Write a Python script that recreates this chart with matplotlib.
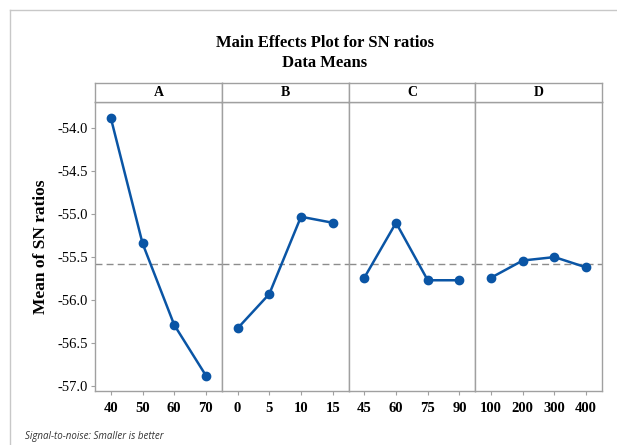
import matplotlib
matplotlib.use("Agg")
import matplotlib.pyplot as plt
from matplotlib.lines import Line2D

factors = ["A", "B", "C", "D"]
levels = {
    "A": ["40", "50", "60", "70"],
    "B": ["0", "5", "10", "15"],
    "C": ["45", "60", "75", "90"],
    "D": ["100", "200", "300", "400"],
}
means = {
    "A": [-53.88, -55.34, -56.29, -56.88],
    "B": [-56.33, -55.93, -55.03, -55.10],
    "C": [-55.74, -55.10, -55.77, -55.77],
    "D": [-55.74, -55.54, -55.50, -55.62],
}
grand_mean = -55.58
yticks = [-54.0, -54.5, -55.0, -55.5, -56.0, -56.5, -57.0]

W, H = 617, 445
fig = plt.figure(figsize=(W / 100, H / 100), dpi=100)

serif = "Liberation Serif"
line_col = "#0a55a5"
spine_col = "#a0a0a0"

left, right = 95 / W, 602 / W
bottom = 1 - 391 / H
top = 1 - 101.7 / H
strip_top = 1 - 83.3 / H
pw = (right - left) / 4

axes = []
for i, f in enumerate(factors):
    ax = fig.add_axes([left + i * pw, bottom, pw, top - bottom])
    x = list(range(len(levels[f])))
    ax.axhline(grand_mean, color="#8c8c8c", lw=1.0, ls=(0, (5, 3)), zorder=1)
    ax.plot(x, means[f], color=line_col, lw=1.8, marker="o", ms=6,
            markerfacecolor=line_col, markeredgecolor=line_col, zorder=3)
    ax.set_xlim(-0.5, 3.5)
    ax.set_ylim(-57.06, -53.69)
    ax.set_xticks(x)
    ax.set_xticklabels(levels[f], fontfamily=serif, fontweight="bold", fontsize=10.5)
    for s in ax.spines.values():
        s.set_color(spine_col)
        s.set_linewidth(1.0)
    ax.tick_params(axis="x", length=3, color=spine_col, pad=5)
    if i == 0:
        ax.set_yticks(yticks)
        ax.set_yticklabels([f"{v:.1f}" for v in yticks], fontfamily=serif, fontsize=10.5)
        ax.tick_params(axis="y", length=3, color=spine_col, pad=2)
        ax.set_ylabel("Mean of SN ratios", fontfamily=serif, fontweight="bold",
                      fontsize=12.5, labelpad=6)
    else:
        ax.set_yticks([])
    # strip
    sax = fig.add_axes([left + i * pw, top, pw, strip_top - top])
    sax.set_xticks([])
    sax.set_yticks([])
    for s in sax.spines.values():
        s.set_color(spine_col)
        s.set_linewidth(1.0)
    sax.text(0.5, 0.5, f, ha="center", va="center", fontfamily=serif,
             fontweight="bold", fontsize=10, transform=sax.transAxes)
    axes.append(ax)

fig.text(325 / W, 1 - 43 / H, "Main Effects Plot for SN ratios", ha="center", va="center",
         fontfamily=serif, fontweight="bold", fontsize=12)
fig.text(325 / W, 1 - 63 / H, "Data Means", ha="center", va="center",
         fontfamily=serif, fontweight="bold", fontsize=12)
fig.text(25 / W, 1 - 437 / H, "Signal-to-noise: Smaller is better", ha="left", va="center",
         fontfamily="Open Sans", fontstyle="italic", fontsize=7, color="#333333")

# outer frame lines
fig.add_artist(Line2D([10 / W, 10 / W], [0, 1 - 10 / H], transform=fig.transFigure,
                      color="#c8c8c8", lw=1.0))
fig.add_artist(Line2D([10 / W, 1], [1 - 10 / H, 1 - 10 / H], transform=fig.transFigure,
                      color="#c8c8c8", lw=1.0))

fig.savefig("out.png", dpi=100)
